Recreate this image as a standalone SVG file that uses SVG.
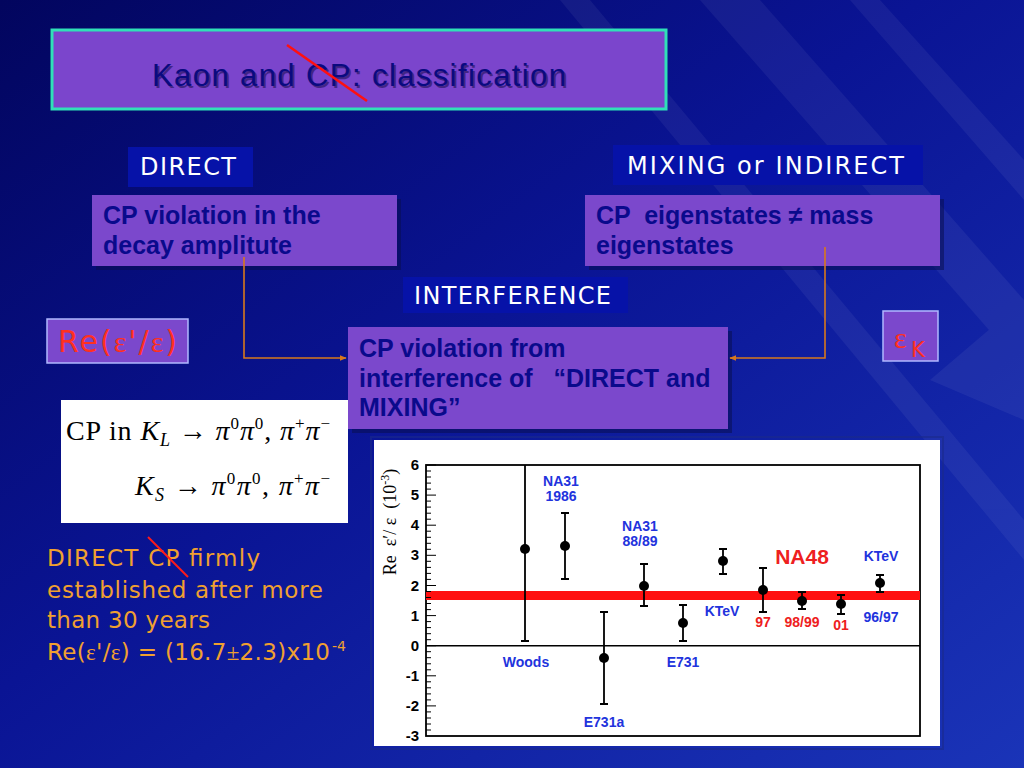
<svg xmlns="http://www.w3.org/2000/svg" width="1024" height="768" viewBox="0 0 1024 768">
<defs>
<linearGradient id="bg" x1="0" y1="0" x2="1" y2="1">
<stop offset="0" stop-color="#02055e"/>
<stop offset="0.45" stop-color="#0a1494"/>
<stop offset="1" stop-color="#1a34b8"/>
</linearGradient>
<marker id="arr" viewBox="0 0 10 10" refX="9" refY="5" markerWidth="7" markerHeight="7" orient="auto" markerUnits="userSpaceOnUse">
<path d="M0,1 L10,5 L0,9 z" fill="#d8781c"/>
</marker>
<style>
.purple{fill:#7b48cc;}
.shadow{fill:#0a0f50;opacity:0.55;}
.lbl{fill:#0612a8;}
.lbltxt{font-family:"DejaVu Sans",sans-serif;font-size:24px;fill:#ffffff;}
.bt{font-family:"Liberation Sans",Arial,sans-serif;font-weight:bold;font-size:25px;fill:#0a0a8c;}
.conn{fill:none;stroke:#d8781c;stroke-width:1.6;}
.note{font-family:"DejaVu Sans",sans-serif;font-size:23px;fill:#f0a030;}
.sup{font-family:"DejaVu Sans",sans-serif;font-size:14px;fill:#f0a030;}
.ax{font-family:"Liberation Sans",Arial,sans-serif;font-weight:bold;font-size:15px;fill:#000;text-anchor:end;}
.bl{font-family:"Liberation Sans",Arial,sans-serif;font-weight:bold;font-size:14px;fill:#2233dd;text-anchor:middle;}
.rl{font-family:"Liberation Sans",Arial,sans-serif;font-weight:bold;font-size:14px;fill:#ee2020;text-anchor:middle;}
.eb{stroke:#000;stroke-width:1.8;fill:none;}
.math{font-family:"Liberation Serif","Times New Roman",serif;font-size:28px;fill:#000;}
</style>
</defs>
<rect width="1024" height="768" fill="url(#bg)"/>
<g opacity="0.05" fill="#ffffff">
<polygon points="700,0 760,0 1024,300 1024,370"/>
<polygon points="850,0 880,0 1024,160 1024,200"/>
<polygon points="560,0 590,0 1024,520 1024,560"/>
<polygon points="930,380 1024,300 1024,420"/>
</g>

<g id="title">
<rect x="52" y="30" width="614" height="79" fill="#7b45cc" stroke="#30e0b8" stroke-width="3"/>
<text x="361" y="88" text-anchor="middle" font-family="Liberation Sans,Arial,sans-serif" font-size="31" fill="#000030" opacity="0.45" textLength="414">Kaon and CP: classification</text>
<text x="359" y="86" text-anchor="middle" font-family="Liberation Sans,Arial,sans-serif" font-size="31" fill="#0a0a80" textLength="414">Kaon and CP: classification</text>
<line x1="287" y1="45" x2="367" y2="101" stroke="#ff1010" stroke-width="2.5"/>
</g>

<g id="label-direct">
<rect class="lbl" x="128" y="147" width="125" height="40"/>
<text class="lbltxt" x="140" y="175" textLength="96">DIRECT</text>
</g>
<g id="box-direct">
<rect class="shadow" x="96" y="199" width="305" height="71"/>
<rect class="purple" x="92" y="195" width="305" height="71"/>
<text class="bt" x="103" y="224">CP violation in the</text>
<text class="bt" x="103" y="254">decay amplitute</text>
</g>

<g id="label-mixing">
<rect class="lbl" x="613" y="145" width="310" height="40"/>
<text class="lbltxt" x="627" y="174" textLength="277">MIXING or INDIRECT</text>
</g>
<g id="box-mixing">
<rect class="shadow" x="589" y="199" width="355" height="71"/>
<rect class="purple" x="585" y="195" width="355" height="71"/>
<text class="bt" x="596" y="224" xml:space="preserve">CP  eigenstates ≠ mass</text>
<text class="bt" x="596" y="254">eigenstates</text>
</g>

<g id="label-interference">
<rect class="lbl" x="403" y="277" width="225" height="36"/>
<text class="lbltxt" x="414" y="304" textLength="197">INTERFERENCE</text>
</g>
<g id="box-interference">
<rect class="shadow" x="352" y="331" width="380" height="102"/>
<rect class="purple" x="348" y="327" width="380" height="102"/>
<text class="bt" x="359" y="357">CP violation from</text>
<text class="bt" x="359" y="387" xml:space="preserve">interference of   “DIRECT and</text>
<text class="bt" x="359" y="416">MIXING”</text>
</g>

<g id="connectors">
<polyline class="conn" points="244,257 244,358 346,358" marker-end="url(#arr)"/>
<polyline class="conn" points="825,247 825,358 730,358" marker-end="url(#arr)"/>
</g>

<g id="re-box">
<rect x="47" y="319" width="141" height="44" fill="#7b48cc" stroke="#b0b8ff" stroke-width="1.5"/>
<text x="58" y="352" font-family="DejaVu Sans,sans-serif" font-size="30" fill="#ff3020" textLength="119">Re(<tspan font-family="Liberation Serif,serif">ε</tspan>'/<tspan font-family="Liberation Serif,serif">ε</tspan>)</text>
</g>

<g id="epsk-box">
<rect x="883" y="311" width="55" height="50" fill="#7b48cc" stroke="#b0b8ff" stroke-width="1.5"/>
<text x="894" y="348" font-family="Liberation Serif,serif" font-size="30" fill="#ff3020">ε</text>
<text x="911" y="357" font-family="DejaVu Sans,sans-serif" font-size="21" fill="#ff3020">K</text>
</g>

<g id="formula">
<rect x="61" y="400" width="287" height="123" fill="#ffffff"/>
<text class="math" x="66" y="440" textLength="264">CP in <tspan font-style="italic">K</tspan><tspan font-style="italic" font-size="18" dy="6">L</tspan><tspan dy="-6"> → </tspan><tspan font-style="italic">π</tspan><tspan font-size="17" dy="-11">0</tspan><tspan font-style="italic" dy="11">π</tspan><tspan font-size="17" dy="-11">0</tspan><tspan dy="11">,  </tspan><tspan font-style="italic">π</tspan><tspan font-size="17" dy="-11">+</tspan><tspan font-style="italic" dy="11">π</tspan><tspan font-size="17" dy="-11">−</tspan></text>
<text class="math" x="135" y="495" textLength="195"><tspan font-style="italic">K</tspan><tspan font-style="italic" font-size="18" dy="6">S</tspan><tspan dy="-6"> → </tspan><tspan font-style="italic">π</tspan><tspan font-size="17" dy="-11">0</tspan><tspan font-style="italic" dy="11">π</tspan><tspan font-size="17" dy="-11">0</tspan><tspan dy="11">,  </tspan><tspan font-style="italic">π</tspan><tspan font-size="17" dy="-11">+</tspan><tspan font-style="italic" dy="11">π</tspan><tspan font-size="17" dy="-11">−</tspan></text>
</g>

<g id="note">
<text class="note" x="47" y="566" textLength="213">DIRECT CP firmly</text>
<text class="note" x="47" y="598" textLength="276">established after more</text>
<text class="note" x="47" y="628" textLength="163">than 30 years</text>
<text class="note" x="47" y="660" textLength="283">Re(<tspan font-family="Liberation Serif,serif">ε</tspan>'/<tspan font-family="Liberation Serif,serif">ε</tspan>) = (16.7<tspan font-family="Liberation Serif,serif">±</tspan>2.3)x10</text>
<text class="sup" x="332" y="651">-4</text>
<line x1="148" y1="537" x2="188" y2="577" stroke="#ff1a1a" stroke-width="2"/>
</g>

<g id="chart">
<rect x="374" y="440" width="566" height="306" fill="#ffffff"/>
<rect x="371" y="437" width="572" height="312" fill="none" stroke="#1a2a8a" stroke-width="2" opacity="0.6"/>
<rect x="426" y="465" width="494" height="271" fill="none" stroke="#000" stroke-width="1.8"/>
<line x1="426" y1="645.7" x2="920" y2="645.7" stroke="#000" stroke-width="1.6"/>
<rect x="426" y="591" width="494" height="9" fill="#ff1010"/>
<g stroke="#000" stroke-width="1">
<path d="M426,465h10M426,495.1h10M426,525.2h10M426,555.3h10M426,585.5h10M426,615.6h10M426,645.7h10M426,675.8h10M426,705.9h10"/>
<path d="M426,471h5M426,477h5M426,483.1h5M426,489.1h5M426,501.1h5M426,507.1h5M426,513.2h5M426,519.2h5M426,531.2h5M426,537.3h5M426,543.3h5M426,549.3h5M426,561.3h5M426,567.4h5M426,573.4h5M426,579.4h5M426,591.5h5M426,597.5h5M426,603.5h5M426,609.6h5M426,621.6h5M426,627.6h5M426,633.7h5M426,639.7h5M426,651.7h5M426,657.7h5M426,663.8h5M426,669.8h5M426,681.8h5M426,687.8h5M426,693.9h5M426,699.9h5M426,711.9h5M426,718h5M426,724h5M426,730h5"/>
</g>
<text class="ax" x="419" y="470">6</text>
<text class="ax" x="419" y="500">5</text>
<text class="ax" x="419" y="530">4</text>
<text class="ax" x="419" y="560">3</text>
<text class="ax" x="419" y="591">2</text>
<text class="ax" x="419" y="621">1</text>
<text class="ax" x="419" y="651">0</text>
<text class="ax" x="419" y="681">-1</text>
<text class="ax" x="419" y="711">-2</text>
<text class="ax" x="419" y="741">-3</text>
<text transform="translate(396,522) rotate(-90)" text-anchor="middle" font-family="Liberation Serif,serif" font-size="18" fill="#000" xml:space="preserve">Re  ε′/ ε  (10<tspan font-size="12" dy="-7">-3</tspan><tspan dy="7">)</tspan></text>

<g class="eb">
<path d="M525,465V641M521,641h8"/>
<path d="M565,513V579M561,513h8M561,579h8"/>
<path d="M604,612V704M600,612h8M600,704h8"/>
<path d="M644,564V606M640,564h8M640,606h8"/>
<path d="M683,605V641M679,605h8M679,641h8"/>
<path d="M723,549V574M719,549h8M719,574h8"/>
<path d="M763,568V612M759,568h8M759,612h8"/>
<path d="M802,592V609M798,592h8M798,609h8"/>
<path d="M841,595V614M837,595h8M837,614h8"/>
<path d="M880,575V592M876,575h8M876,592h8"/>
</g>
<g fill="#000">
<circle cx="525" cy="549" r="5"/>
<circle cx="565" cy="546" r="5"/>
<circle cx="604" cy="658" r="5"/>
<circle cx="644" cy="586" r="5"/>
<circle cx="683" cy="623" r="5"/>
<circle cx="723" cy="561" r="5"/>
<circle cx="763" cy="590" r="5"/>
<circle cx="802" cy="601" r="5"/>
<circle cx="841" cy="604" r="5"/>
<circle cx="880" cy="583" r="5"/>
</g>
<text class="bl" x="561" y="486">NA31</text>
<text class="bl" x="561" y="501">1986</text>
<text class="bl" x="640" y="531">NA31</text>
<text class="bl" x="640" y="546">88/89</text>
<text class="bl" x="526" y="667">Woods</text>
<text class="bl" x="604" y="727">E731a</text>
<text class="bl" x="683" y="667">E731</text>
<text class="bl" x="722" y="616">KTeV</text>
<text x="802" y="564" text-anchor="middle" font-family="Liberation Sans,Arial,sans-serif" font-weight="bold" font-size="21" fill="#ee2020">NA48</text>
<text class="rl" x="763" y="627">97</text>
<text class="rl" x="802" y="627">98/99</text>
<text class="rl" x="841" y="630">01</text>
<text class="bl" x="881" y="561">KTeV</text>
<text class="bl" x="881" y="622">96/97</text>
</g>
</svg>
